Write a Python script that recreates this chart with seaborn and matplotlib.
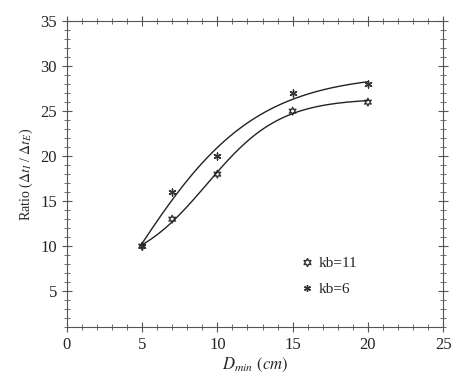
import numpy as np
import pandas as pd
import matplotlib
matplotlib.use("Agg")
import matplotlib.pyplot as plt
import seaborn as sns
from matplotlib.ticker import MultipleLocator
from matplotlib.lines import Line2D

d_min = [5, 7, 10, 15, 20]
ratio_kb11 = [10, 13, 18, 25, 26]
ratio_kb6 = [10, 16, 20, 27, 28]
labels = ["kb=11", "kb=6"]

sns.set_style("ticks")
plt.rcParams["font.family"] = ["Liberation Serif", "DejaVu Serif"]
plt.rcParams["mathtext.fontset"] = "stix"

fig = plt.figure(figsize=(4.74, 3.84), dpi=100)
ax = fig.add_axes([0.141, 0.148, 0.794, 0.797])


def logistic_fit(x, y):
    """Least-squares fit of y = c + L / (1 + exp(-k (x - x0)))."""
    x = np.asarray(x, float)
    y = np.asarray(y, float)
    best = None
    for k in np.linspace(0.1, 1.5, 141):
        for x0 in np.linspace(4, 16, 121):
            g = 1.0 / (1.0 + np.exp(-k * (x - x0)))
            A = np.column_stack([np.ones_like(g), g])
            coef, *_ = np.linalg.lstsq(A, y, rcond=None)
            err = np.sum((A @ coef - y) ** 2)
            if best is None or err < best[0]:
                best = (err, k, x0, coef)
    _, k, x0, (c, L) = best
    xs = np.linspace(x.min(), x.max(), 200)
    return xs, c + L / (1.0 + np.exp(-k * (xs - x0)))


for ys in [ratio_kb11, ratio_kb6]:
    xs, fy = logistic_fit(d_min, ys)
    sns.lineplot(x=xs, y=fy, color="#222222", lw=1.0, ax=ax)

sns.scatterplot(x=d_min, y=ratio_kb11, marker=(6, 1, 0), s=30,
                facecolor="none", edgecolor="#333333", linewidth=1.0, ax=ax)
sns.scatterplot(x=d_min, y=ratio_kb6, marker=(6, 2, 0), s=25,
                color="#333333", linewidth=1.0, ax=ax)

ax.set_xlim(0, 25)
ax.set_ylim(1, 35)
ax.xaxis.set_major_locator(MultipleLocator(5))
ax.xaxis.set_minor_locator(MultipleLocator(1))
ax.yaxis.set_minor_locator(MultipleLocator(1))
ax.set_yticks([5, 10, 15, 20, 25, 30, 35])
ax.tick_params(which="both", direction="inout", top=True, right=True,
               labelsize=12, color="#555555")
ax.tick_params(which="major", length=7)
ax.tick_params(which="minor", length=4)
for sp in ax.spines.values():
    sp.set_color("#555555")
    sp.set_linewidth(0.8)

ax.set_xlabel(r"$D_{min}$ $(cm)$", fontsize=12, labelpad=2)
ax.set_ylabel(r"Ratio ($\Delta t_I$ / $\Delta t_E$)", fontsize=10)

handles = [Line2D([], [], ls="none", marker=(6, 1, 0), mfc="none", mec="#333333", ms=6),
           Line2D([], [], ls="none", marker=(6, 2, 0), mec="#333333", ms=5)]
ax.legend(handles, labels, loc="upper left", bbox_to_anchor=(0.58, 0.275),
          frameon=False, fontsize=11, handletextpad=0.3, labelspacing=0.8,
          handlelength=1.0)

fig.savefig("out.png", dpi=100)
